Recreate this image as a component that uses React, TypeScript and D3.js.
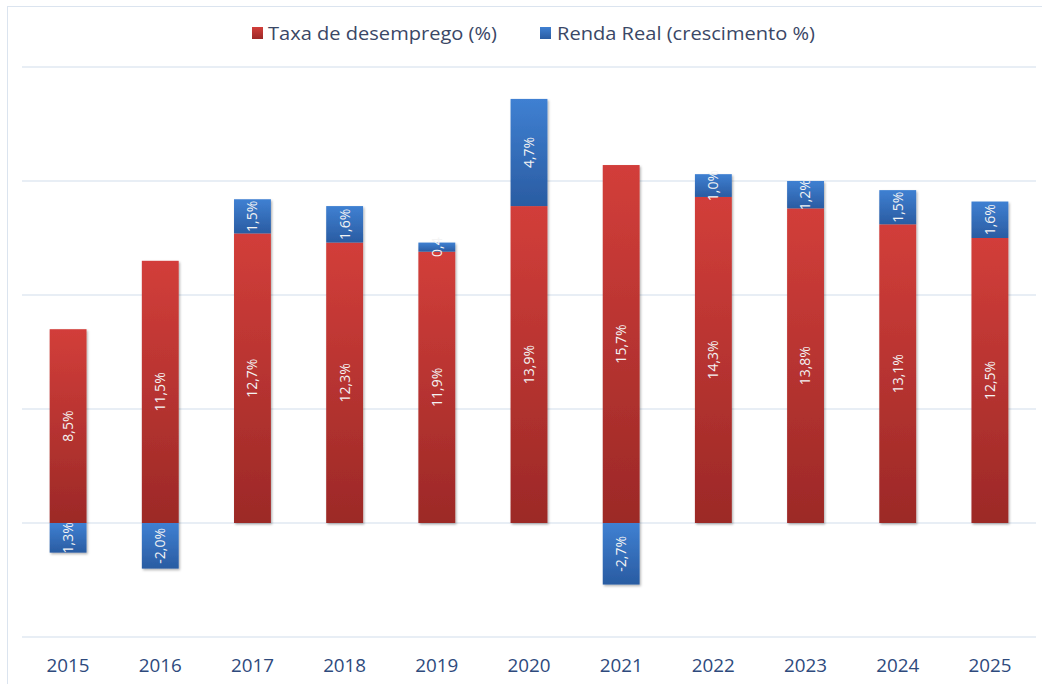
import React from "react";
import * as d3 from "d3";

const years = ["2015", "2016", "2017", "2018", "2019", "2020", "2021", "2022", "2023", "2024", "2025"];
const desemprego = [8.5, 11.5, 12.7, 12.3, 11.9, 13.9, 15.7, 14.3, 13.8, 13.1, 12.5];
const renda = [-1.3, -2.0, 1.5, 1.6, 0.4, 4.7, -2.7, 1.0, 1.2, 1.5, 1.6];
const desempregoLabels = ["8,5%", "11,5%", "12,7%", "12,3%", "11,9%", "13,9%", "15,7%", "14,3%", "13,8%", "13,1%", "12,5%"];
const rendaLabels = ["1,3%", "-2,0%", "1,5%", "1,6%", "0,4", "4,7%", "-2,7%", "1,0%", "1,2%", "1,5%", "1,6%"];
const gridTicks = [-5, 0, 5, 10, 15, 20];
const legendNames = ["Taxa de desemprego (%)", "Renda Real (crescimento %)"];

const W = 1042;
const H = 684;
const FONT = "'Open Sans', 'Noto Sans', sans-serif";

export default function App() {
  const x = d3.scaleBand<string>().domain(years).range([22, 1036]).paddingInner(0.6).paddingOuter(0.3);
  const y = d3.scaleLinear().domain([-5, 20]).range([637, 67]);
  const bw = x.bandwidth();

  const segs = years.map((yr, i) => {
    const r = desemprego[i];
    const b = renda[i];
    const redTop = y(r);
    const redBot = y(0);
    let bTop: number, bBot: number;
    if (b >= 0) {
      bTop = y(r + b);
      bBot = y(r);
    } else {
      bTop = y(0);
      bBot = y(b);
    }
    return { yr, i, redTop, redBot, bTop, bBot };
  });

  return (
    <svg width={W} height={H} style={{ position: "absolute", left: 0, top: 0, background: "#fff" }}>
      <defs>
        <linearGradient id="gRed" x1="0" y1="0" x2="0" y2="1">
          <stop offset="0" stopColor="#d23e3a" />
          <stop offset="1" stopColor="#9c2927" />
        </linearGradient>
        <linearGradient id="gBlue" x1="0" y1="0" x2="0" y2="1">
          <stop offset="0" stopColor="#3f80d2" />
          <stop offset="1" stopColor="#2a5ca2" />
        </linearGradient>
        <filter id="shadow" x="-20%" y="-20%" width="150%" height="150%">
          <feDropShadow dx="1.2" dy="1.5" stdDeviation="1.2" floodColor="#000" floodOpacity="0.3" />
        </filter>
      </defs>
      <rect x={7.5} y={6.5} width={1100} height={800} fill="#fff" stroke="#dbe4ef" strokeWidth={1} />

      {/* legend */}
      <g fontFamily={FONT} fontSize={17.5} fill="#3a4766">
        <rect x={252} y={27} width={11} height={12} fill="url(#gRed)" />
        <text x={268} y={40} textLength={229} lengthAdjust="spacingAndGlyphs">{legendNames[0]}</text>
        <rect x={540} y={27} width={11} height={12} fill="url(#gBlue)" />
        <text x={557} y={40} textLength={258} lengthAdjust="spacingAndGlyphs">{legendNames[1]}</text>
      </g>

      {/* grid */}
      {gridTicks.map((t) => (
        <line key={t} x1={22} x2={1036} y1={y(t)} y2={y(t)} stroke="#e1e8f2" strokeWidth={1.5} />
      ))}

      {/* bars */}
      {segs.map((s) => (
        <g key={s.yr} filter="url(#shadow)">
          <rect x={x(s.yr)} y={s.redTop} width={bw} height={s.redBot - s.redTop} fill="url(#gRed)" />
          <rect x={x(s.yr)} y={s.bTop} width={bw} height={s.bBot - s.bTop} fill="url(#gBlue)" />
        </g>
      ))}

      {/* labels */}
      <g fontFamily={FONT} fontSize={14} fill="#f4f4f4">
        {segs.map((s) => {
          const cx = (x(s.yr) as number) + bw / 2;
          const cyR = (s.redTop + s.redBot) / 2;
          const cyB = (s.bTop + s.bBot) / 2;
          return (
            <g key={s.yr}>
              <text transform={`translate(${cx},${cyR}) rotate(-90)`} textAnchor="middle" dy="0.35em">
                {desempregoLabels[s.i]}
              </text>
              <text transform={`translate(${cx},${cyB}) rotate(-90)`} textAnchor="middle" dy="0.35em">
                {rendaLabels[s.i]}
              </text>
            </g>
          );
        })}
      </g>

      {/* x axis labels */}
      <g fontFamily={FONT} fontSize={19} fill="#2e4a7d">
        {years.map((yr) => (
          <text key={yr} x={(x(yr) as number) + bw / 2} y={672} textAnchor="middle" textLength={43} lengthAdjust="spacingAndGlyphs">
            {yr}
          </text>
        ))}
      </g>
    </svg>
  );
}
